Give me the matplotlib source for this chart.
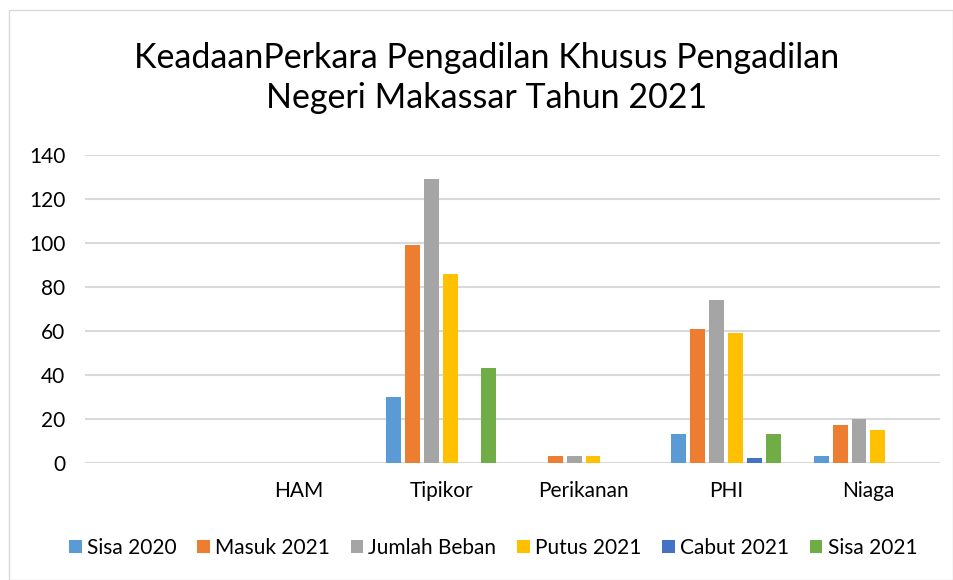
import numpy as np
import matplotlib.pyplot as plt
from matplotlib.patches import Rectangle

plt.rcParams['font.family'] = ['Lato', 'DejaVu Sans']

categories = ['', 'HAM', 'Tipikor', 'Perikanan', 'PHI', 'Niaga']
series_names = ['Sisa 2020', 'Masuk 2021', 'Jumlah Beban', 'Putus 2021', 'Cabut 2021', 'Sisa 2021']
sisa_2020 = [0, 0, 30, 0, 13, 3]
masuk_2021 = [0, 0, 99, 3, 61, 17]
jumlah_beban = [0, 0, 129, 3, 74, 20]
putus_2021 = [0, 0, 86, 3, 59, 15]
cabut_2021 = [0, 0, 0, 0, 2, 0]
sisa_2021 = [0, 0, 43, 0, 13, 0]
colors = ['#5b9bd5', '#ed7d31', '#a5a5a5', '#ffc000', '#4472c4', '#70ad47']

values = [sisa_2020, masuk_2021, jumlah_beban, putus_2021, cabut_2021, sisa_2021]

fig = plt.figure(figsize=(9.54, 5.8), dpi=100)
fig.patches.append(Rectangle((0.009, 0.0), 0.99, 0.982, transform=fig.transFigure,
                             fill=False, edgecolor='#d9d9d9', linewidth=1))
ax = fig.add_axes([0.089, 0.202, 0.896, 0.531])

x = np.arange(len(categories))
step = 0.133
width = 0.105
for i, (name, vals) in enumerate(zip(series_names, values)):
    ax.bar(x + (i - 2.5) * step, vals, width, color=colors[i], label=name, zorder=3)

ax.set_xlim(-0.5, len(categories) - 0.5)
ax.set_ylim(0, 140)
ax.set_yticks(range(0, 141, 20))
ax.set_xticks(x)
ax.set_xticklabels(categories)
ax.tick_params(axis='both', length=0, labelsize=15, colors='#000000')
ax.tick_params(axis='x', pad=13)
ax.tick_params(axis='y', pad=14)
ax.grid(axis='y', color='#d9d9d9', linewidth=1.5, zorder=0)
for s in ax.spines.values():
    s.set_visible(False)

fig.text(0.51, 0.866, 'KeadaanPerkara Pengadilan Khusus Pengadilan\nNegeri Makassar Tahun 2021',
         ha='center', va='center', fontsize=24.5, linespacing=1.3)

fig.legend(loc='center', bbox_to_anchor=(0.517, 0.055), ncol=6, frameon=False,
           fontsize=15, handlelength=0.6, handleheight=0.6, handletextpad=0.25,
           columnspacing=1.0)

fig.savefig('out.png', dpi=100)
